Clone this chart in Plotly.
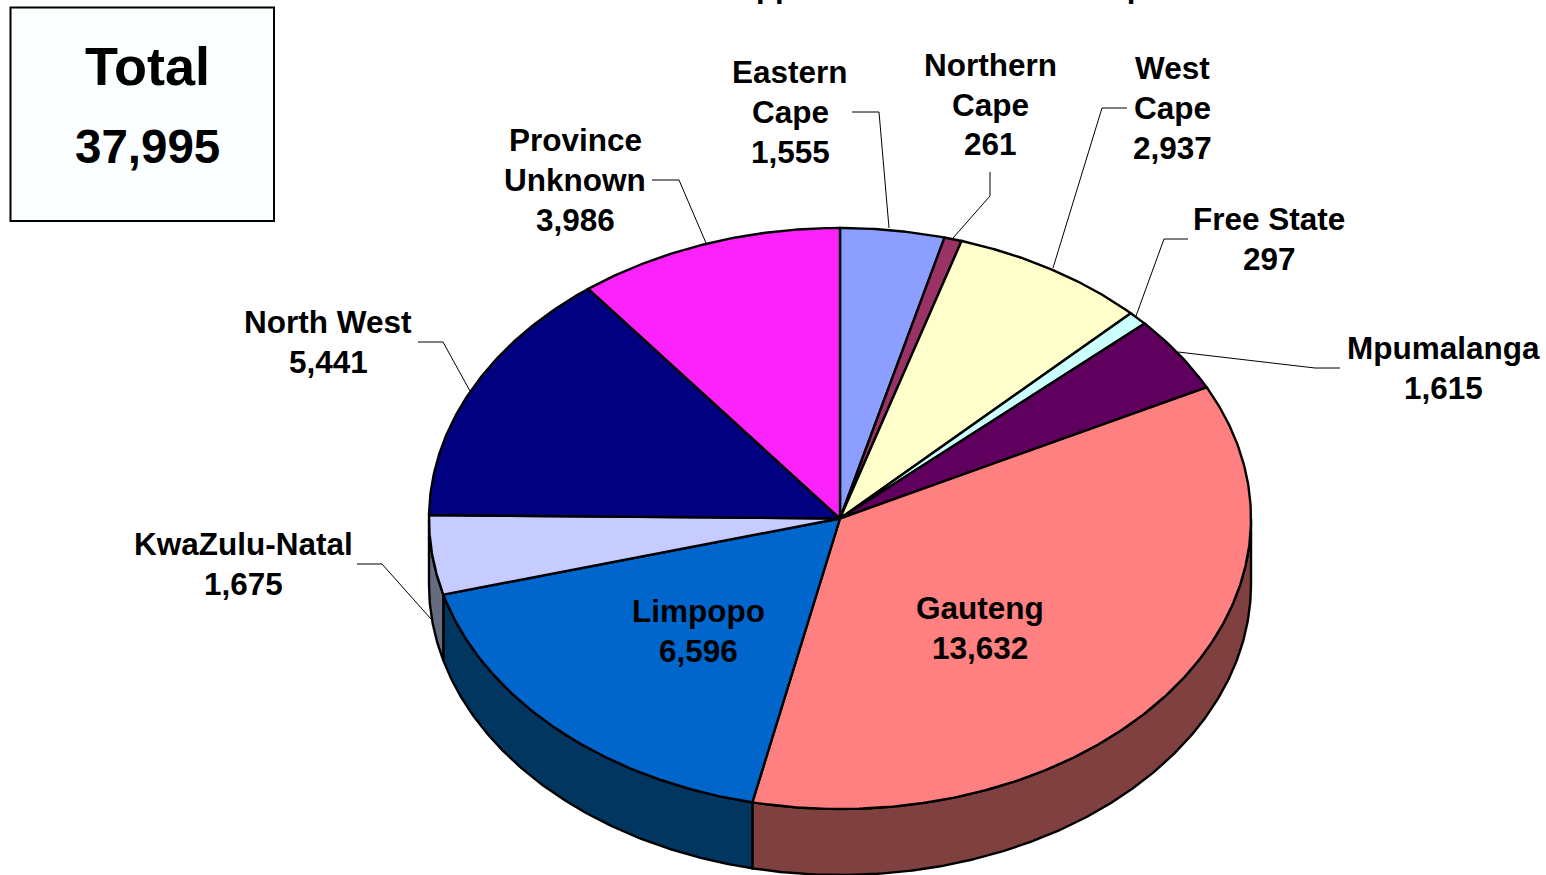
import math
import plotly.graph_objects as go

# ---- data ----
provinces = ["Eastern Cape", "Northern Cape", "West Cape", "Free State", "Mpumalanga",
             "Gauteng", "Limpopo", "KwaZulu-Natal", "North West", "Province Unknown"]
label_lines = [["Eastern", "Cape"], ["Northern", "Cape"], ["West", "Cape"], ["Free State"], ["Mpumalanga"],
               ["Gauteng"], ["Limpopo"], ["KwaZulu-Natal"], ["North West"], ["Province", "Unknown"]]
values = [1555, 261, 2937, 297, 1615, 13632, 6596, 1675, 5441, 3986]
top_colors = ["#8C9EFF", "#993366", "#FFFFCC", "#CCFFFF", "#5F005F",
              "#FF8080", "#0066CC", "#C6CCFF", "#000080", "#FB22FB"]
side_colors = ["#46507F", "#4C1933", "#80805F", "#668080", "#300030",
               "#804040", "#003660", "#666C80", "#000040", "#7D117D"]
total_label = "37,995"
title_text = "Total Supported Patients on ART per Province"

# ---- layout of the drawing ----
CX, CY, RX, RY, DEPTH = 840, 518.5, 411, 290.5, 66
LINE_STEP = 39.7
label_xy = [(790, 112), (990, 104.5), (1172, 108), (1269, 239), (1443, 368),
            (980, 628), (698, 631), (243, 564), (328, 342), (575, 180)]
leaders = [[(852, 112), (879, 112), (889, 228)],
           [(990, 172), (990, 196), (953, 238)],
           [(1127, 108), (1102, 108), (1053, 268)],
           [(1188, 239), (1164, 239), (1136, 316)],
           [(1340, 368), (1315, 368), (1178, 352)],
           None, None,
           [(357, 564), (382, 564), (431, 619)],
           [(418, 342), (443, 342), (470, 391)],
           [(652, 180), (679, 180), (706, 243)]]


def rim(a0, a1, dy=0):
    n = max(2, int(abs(a1 - a0) * 2) + 2)
    xs, ys = [], []
    for i in range(n):
        a = math.radians(a0 + (a1 - a0) * i / (n - 1))
        xs.append(CX + RX * math.sin(a))
        ys.append(CY - RY * math.cos(a) + dy)
    return xs, ys


total = sum(values)
fig = go.Figure()
angles, acc = [], 0
for v in values:
    angles.append((acc / total * 360, (acc + v) / total * 360))
    acc += v

# walls of the front half
for (a0, a1), name, col in zip(angles, provinces, side_colors):
    lo, hi = max(a0, 90), min(a1, 270)
    if lo >= hi:
        continue
    tx, ty = rim(lo, hi)
    bx, by = rim(hi, lo, DEPTH)
    fig.add_trace(go.Scatter(x=tx + bx + tx[:1], y=ty + by + ty[:1], mode="lines", fill="toself",
                             fillcolor=col, line=dict(color="black", width=2.4),
                             name=name, hoverinfo="name", showlegend=False))
# top face
for (a0, a1), name, col in zip(angles, provinces, top_colors):
    tx, ty = rim(a0, a1)
    fig.add_trace(go.Scatter(x=[CX] + tx + [CX], y=[CY] + ty + [CY], mode="lines", fill="toself",
                             fillcolor=col, line=dict(color="black", width=2.4),
                             name=name, hoverinfo="name", showlegend=False))
# leader lines
for pts in leaders:
    if pts:
        fig.add_trace(go.Scatter(x=[p[0] for p in pts], y=[p[1] for p in pts], mode="lines",
                                 line=dict(color="black", width=1), hoverinfo="skip", showlegend=False))

FONT = "Liberation Sans, Arial, sans-serif"
for lines, v, (lx, ly) in zip(label_lines, values, label_xy):
    rows = lines + [f"{v:,}"]
    for i, row in enumerate(rows):
        fig.add_annotation(x=lx, y=ly + (i - (len(rows) - 1) / 2) * LINE_STEP, xref="x", yref="y",
                           showarrow=False, xanchor="center", yanchor="middle", text=f"<b>{row}</b>",
                           font=dict(family=FONT, size=31.5, color="black"))

# total box
fig.add_shape(type="rect", x0=10.5, y0=7.5, x1=274, y1=221, xref="x", yref="y",
              line=dict(color="black", width=2), fillcolor="#FBFFFF", layer="below")
fig.add_annotation(x=147, y=66, xref="x", yref="y", showarrow=False, text="<b>Total</b>",
                   font=dict(family=FONT, size=54, color="black"))
fig.add_annotation(x=147.5, y=146, xref="x", yref="y", showarrow=False, text=f"<b>{total_label}</b>",
                   font=dict(family=FONT, size=47.5, color="black"))
# title, cut off by the top of the page as in the reference
fig.add_annotation(x=975 / 1546, y=1 + 13 / 875, xref="paper", yref="paper", showarrow=False,
                   xanchor="center", yanchor="middle", text=f"<b>{title_text}</b>",
                   font=dict(family=FONT, size=31, color="black"))

fig.update_layout(width=1546, height=875, margin=dict(l=0, r=0, t=0, b=0),
                  paper_bgcolor="white", plot_bgcolor="white", showlegend=False,
                  xaxis=dict(range=[0, 1546], visible=False, fixedrange=True),
                  yaxis=dict(range=[875, 0], visible=False, fixedrange=True))
fig.write_html("out.html", config=dict(displayModeBar=False),
               post_script="document.body.style.margin='0';document.body.style.overflow='hidden';")
